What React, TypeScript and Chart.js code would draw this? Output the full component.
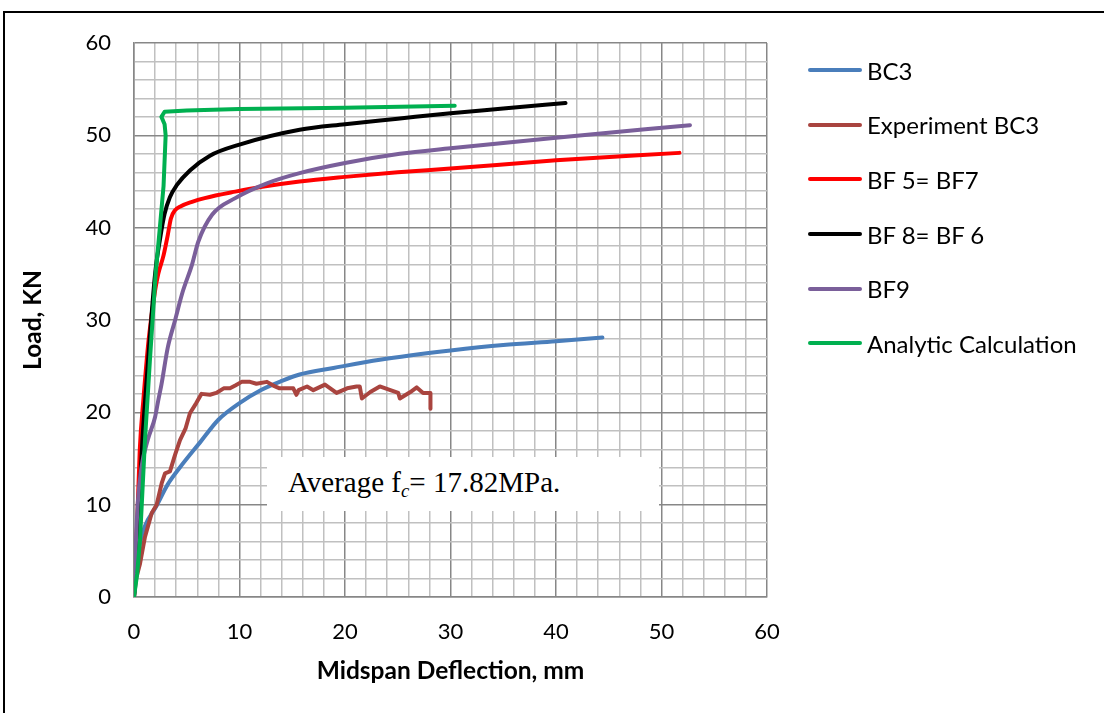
import React, { useEffect, useRef } from 'react';
import { Chart, registerables } from 'chart.js';

Chart.register(...registerables);

// Load–deflection curves (deflection in mm, load in kN)
const bc3X = [0, 0.2, 0.57, 1.0, 2.1, 3.2, 4.4, 6.3, 8.0, 10.0, 12.0, 14.0, 15.7, 18.9, 23.3, 30.0, 35.0, 40.0, 44.4];
const bc3Y = [0, 3, 5.8, 7.6, 9.8, 12.2, 14.1, 16.8, 19.2, 21.0, 22.4, 23.4, 24.1, 24.8, 25.7, 26.7, 27.3, 27.7, 28.1];

const expX = [0, 0.2, 0.57, 1.04, 1.68, 2.15, 2.62, 2.94, 3.41, 3.89, 4.36, 4.9, 5.3, 5.9, 6.4, 7.2, 7.8, 8.5, 9.1, 9.6, 10.2, 11.0, 11.6, 12.6, 13.2, 13.8, 15.1, 15.4, 15.6, 16.4, 17.0, 18.1, 19.2, 20.2, 21.1, 21.4, 21.6, 22.4, 23.3, 24.3, 25.05, 25.2, 26.2, 26.8, 27.4, 28.1, 28.1];
const expY = [0, 2, 3.6, 6.5, 9.1, 10.0, 12.3, 13.4, 13.6, 15.4, 17.0, 18.3, 19.9, 21.0, 22.0, 21.9, 22.1, 22.6, 22.6, 22.9, 23.3, 23.3, 23.1, 23.3, 22.9, 22.6, 22.6, 21.9, 22.4, 22.8, 22.4, 23.0, 22.1, 22.6, 22.8, 22.8, 21.5, 22.2, 22.8, 22.4, 22.1, 21.5, 22.2, 22.7, 22.1, 22.1, 20.4];

const bf57X = [0, 0.3, 0.55, 0.9, 1.4, 2.0, 2.3, 2.8, 3.2, 3.5, 3.9, 4.4, 5.5, 6.7, 9.6, 12.0, 15.7, 20.0, 25.0, 30.0, 40.0, 51.7];
const bf57Y = [0, 8, 16, 21.5, 28, 33.2, 35.0, 37.0, 39.2, 41.0, 41.9, 42.3, 42.8, 43.2, 43.9, 44.4, 45.0, 45.5, 46.0, 46.4, 47.3, 48.1];

const bf86X = [0, 0.4, 0.8, 1.3, 2.0, 2.5, 2.9, 3.4, 4.05, 5.3, 7.2, 10.0, 15.7, 20.0, 25.0, 30.0, 35.0, 40.9];
const bf86Y = [0, 8, 17, 25, 35, 39, 41.5, 43.3, 44.6, 46.2, 47.8, 49.0, 50.6, 51.2, 51.8, 52.4, 52.9, 53.5];

const bf9X = [0, 0.15, 0.35, 0.7, 1.3, 2.0, 2.3, 2.6, 3.2, 3.9, 4.6, 5.5, 6.1, 7.4, 9.6, 12.6, 15.7, 20.0, 25.2, 30.0, 40.0, 52.7];
const bf9Y = [0, 5, 10, 14, 17, 19.5, 21.3, 23, 27, 30, 33, 36, 38.5, 41.4, 43.2, 44.8, 45.9, 47.0, 48.0, 48.6, 49.75, 51.1];

const analyticX = [0, 0.3, 0.57, 1.04, 1.5, 2.05, 2.45, 2.8, 3.0, 2.9, 2.6, 2.9, 5.0, 10.0, 20.0, 30.4];
const analyticY = [0, 2.5, 6.2, 17, 25.5, 35, 40, 44.5, 50, 51.2, 52.0, 52.55, 52.7, 52.85, 53.0, 53.2];

const seriesNames = ['BC3', 'Experiment BC3', 'BF 5= BF7', 'BF 8= BF 6', 'BF9', 'Analytic Calculation'];
const seriesColors = ['#4A7EBB', '#A9443F', '#FF0000', '#000000', '#7A5F9A', '#00B050'];

const xTickLabels = [0, 10, 20, 30, 40, 50, 60];
const yTickLabels = [0, 10, 20, 30, 40, 50, 60];

const toPoints = (xs: number[], ys: number[]) => xs.map((x, i) => ({ x, y: ys[i] }));

const MAJOR = '#878787';
const MINOR = '#C0C0C0';

export default function App() {
  const canvasRef = useRef<HTMLCanvasElement | null>(null);

  useEffect(() => {
    const curves = [
      { xs: bc3X, ys: bc3Y, smooth: true },
      { xs: expX, ys: expY, smooth: false },
      { xs: bf57X, ys: bf57Y, smooth: true },
      { xs: bf86X, ys: bf86Y, smooth: true },
      { xs: bf9X, ys: bf9Y, smooth: true },
      { xs: analyticX, ys: analyticY, smooth: false },
    ];
    const datasets = curves.map((c, i) => ({
      label: seriesNames[i],
      data: toPoints(c.xs, c.ys),
      borderColor: seriesColors[i],
      backgroundColor: seriesColors[i],
      borderWidth: 4,
      pointRadius: 0,
      fill: false,
      tension: 0,
      cubicInterpolationMode: c.smooth ? ('monotone' as const) : ('default' as const),
      borderCapStyle: 'round' as const,
      borderJoinStyle: 'round' as const,
      order: curves.length - i,
    }));

    const gridColor = (ctx: any) => (ctx.tick && ctx.tick.value % 10 === 0 ? MAJOR : MINOR);

    const chart = new Chart(canvasRef.current as HTMLCanvasElement, {
      type: 'line',
      data: { datasets },
      options: {
        animation: false,
        responsive: false,
        layout: { padding: { left: 14, right: 337, top: 43, bottom: 20 } },
        plugins: { legend: { display: false }, tooltip: { enabled: false } },
        scales: {
          x: {
            type: 'linear',
            min: 0,
            max: 60,
            afterFit: (s: any) => { s.height = 96; },
            ticks: {
              stepSize: 2,
              autoSkip: false,
              maxRotation: 0,
              padding: 22,
              color: '#000',
              font: { family: 'Lato', size: 22 },
              callback: (v: any) => (xTickLabels.includes(Number(v)) ? String(v) : ''),
            },
            grid: { color: gridColor, lineWidth: 1.5, drawTicks: false },
            border: { display: true, color: MAJOR, width: 1.5 },
            title: {
              display: true,
              text: 'Midspan Deflection, mm',
              color: '#000',
              font: { family: 'Lato', size: 24.5, weight: 'bold' },
              padding: { top: 0, bottom: 7 },
            },
          },
          y: {
            type: 'linear',
            min: 0,
            max: 60,
            afterFit: (s: any) => { s.width = 120; },
            ticks: {
              stepSize: 2,
              autoSkip: false,
              padding: 23,
              color: '#000',
              font: { family: 'Lato', size: 22 },
              callback: (v: any) => (yTickLabels.includes(Number(v)) ? String(v) : ''),
            },
            grid: { color: gridColor, lineWidth: 1.5, drawTicks: false },
            border: { display: true, color: MAJOR, width: 1.5 },
            title: {
              display: true,
              text: 'Load, KN',
              color: '#000',
              font: { family: 'Lato', size: 24.5, weight: 'bold' },
              padding: { top: 4, bottom: 0 },
            },
          },
        },
      },
    });
    return () => chart.destroy();
  }, []);

  return (
    <div style={{ position: 'absolute', left: 0, top: 0, width: 1104, height: 713, overflow: 'hidden', background: '#fff' }}>
      <div style={{ position: 'absolute', left: 3, top: 11, width: 1200, height: 800, border: '2px solid #000', boxSizing: 'border-box' }} />
      <canvas ref={canvasRef} width={1104} height={713} style={{ position: 'absolute', left: 0, top: 0, width: 1104, height: 713 }} />
      <div style={{ position: 'absolute', left: 267, top: 457, width: 392, height: 54, background: '#fff', display: 'flex', alignItems: 'center', paddingLeft: 21, boxSizing: 'border-box', fontFamily: '"Liberation Serif", "Times New Roman", serif', fontSize: 29, color: '#000', whiteSpace: 'nowrap' }}>
        <span>Average f<sub style={{ fontStyle: 'italic', fontSize: '0.65em', verticalAlign: '-0.25em' }}>c</sub>= 17.82MPa.</span>
      </div>
      <div style={{ position: 'absolute', left: 808, top: 43, fontFamily: 'Lato', fontSize: 24, color: '#000' }}>
        {seriesNames.map((name, i) => (
          <div key={name} style={{ height: 54.6, display: 'flex', alignItems: 'center' }}>
            <div style={{ width: 54, height: 4, borderRadius: 2, background: seriesColors[i] }} />
            <span style={{ marginLeft: 5 }}>{name}</span>
          </div>
        ))}
      </div>
    </div>
  );
}
